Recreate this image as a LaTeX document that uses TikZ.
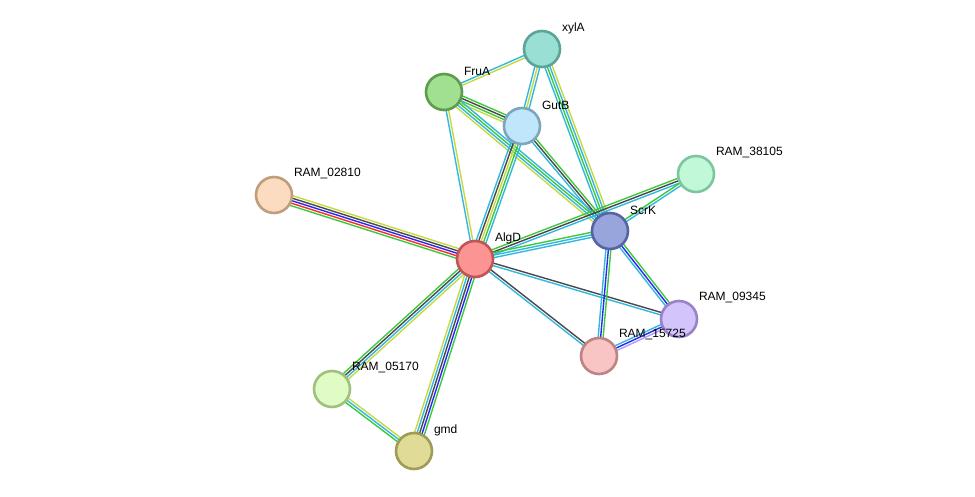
\documentclass[tikz,border=0pt]{standalone}
\usepackage{fontspec}
\setmainfont{Liberation Sans}
\usetikzlibrary{calc,backgrounds}
\definecolor{tm}{RGB}{199,216,66}
\definecolor{db}{RGB}{50,184,222}
\definecolor{coex}{RGB}{72,72,72}
\definecolor{nb}{RGB}{62,200,62}
\definecolor{co}{RGB}{40,40,245}
\definecolor{fus}{RGB}{245,45,45}
\definecolor{hom}{RGB}{172,160,248}
\tikzset{
  prot/.style={circle, minimum size=36, inner sep=0, line width=2.6},
  lbl/.style={font=\fontsize{12}{14}\selectfont, inner sep=0.5pt, yshift=21},
  edge/.style={line width=1.4},
}
% parallel evidence lines between two proteins
\newcommand{\strlink}[4]{%
  \foreach \c [count=\i] in {#4} {
    \pgfmathsetmacro{\off}{(\i-(#3+1)/2)*2.5}
    \draw[edge, \c] ($(#1)!\off pt!90:(#2)$) -- ($(#2)!\off pt!-90:(#1)$);
  }}
\begin{document}
\begin{tikzpicture}[x=1pt, y=-1pt]
\useasboundingbox (0,0) rectangle (975,497);
\node[prot, fill={rgb,255:red,153;green,223;blue,212}, draw={rgb,255:red,92;green,164;blue,152},
  label={[lbl]0:xylA}] (xyla) at (542,49) {};
\node[prot, fill={rgb,255:red,160;green,224;blue,144}, draw={rgb,255:red,92;green,156;blue,76},
  label={[lbl]0:FruA}] (frua) at (444,92) {};
\node[prot, fill={rgb,255:red,192;green,230;blue,252}, draw={rgb,255:red,124;green,166;blue,190},
  label={[lbl]0:GutB}] (gutb) at (522,126) {};
\node[prot, fill={rgb,255:red,192;green,248;blue,216}, draw={rgb,255:red,126;green,198;blue,158},
  label={[lbl]0:RAM\_38105}] (r38105) at (696,174) {};
\node[prot, fill={rgb,255:red,152;green,164;blue,220}, draw={rgb,255:red,86;green,100;blue,164},
  label={[lbl]0:ScrK}] (scrk) at (610,231) {};
\node[prot, fill={rgb,255:red,252;green,220;blue,192}, draw={rgb,255:red,190;green,158;blue,124},
  label={[lbl]0:RAM\_02810}] (r02810) at (274,195) {};
\node[prot, fill={rgb,255:red,252;green,148;blue,148}, draw={rgb,255:red,190;green,86;blue,86},
  label={[lbl]0:AlgD}] (algd) at (475,259) {};
\node[prot, fill={rgb,255:red,212;green,196;blue,252}, draw={rgb,255:red,152;green,130;blue,202},
  label={[lbl]0:RAM\_09345}] (r09345) at (679,319) {};
\node[prot, fill={rgb,255:red,248;green,196;blue,196}, draw={rgb,255:red,188;green,132;blue,132},
  label={[lbl]0:RAM\_15725}] (r15725) at (599,356) {};
\node[prot, fill={rgb,255:red,224;green,252;blue,196}, draw={rgb,255:red,160;green,192;blue,126},
  label={[lbl]0:RAM\_05170}] (r05170) at (332,389) {};
\node[prot, fill={rgb,255:red,224;green,220;blue,152}, draw={rgb,255:red,158;green,156;blue,86},
  label={[lbl]0:gmd}] (gmd) at (414,451) {};
\begin{scope}[on background layer]
\strlink{xyla}{frua}{2}{db,tm}
\strlink{xyla}{gutb}{3}{db,tm,db}
\strlink{xyla}{scrk}{4}{db,nb,db,tm}
\strlink{frua}{gutb}{4}{tm,nb,coex,nb}
\strlink{frua}{scrk}{4}{tm,db,nb,db}
\strlink{frua}{algd}{2}{db,tm}
\strlink{gutb}{scrk}{3}{db,coex,nb}
\strlink{gutb}{algd}{5}{db,coex,tm,nb,db}
\strlink{r02810}{algd}{5}{nb,fus,co,coex,tm}
\strlink{algd}{r38105}{3}{db,coex,nb}
\strlink{algd}{scrk}{3}{db,db,nb}
\strlink{scrk}{r38105}{2}{db,nb}
\strlink{algd}{r09345}{2}{db,coex}
\strlink{algd}{r15725}{2}{db,coex}
\strlink{scrk}{r15725}{3}{db,co,nb}
\strlink{scrk}{r09345}{3}{db,co,nb}
\strlink{r09345}{r15725}{3}{db,co,hom}
\strlink{algd}{r05170}{4}{nb,coex,db,tm}
\strlink{algd}{gmd}{5}{tm,db,coex,co,nb}
\strlink{r05170}{gmd}{3}{nb,db,tm}
\end{scope}
\end{tikzpicture}
\end{document}
